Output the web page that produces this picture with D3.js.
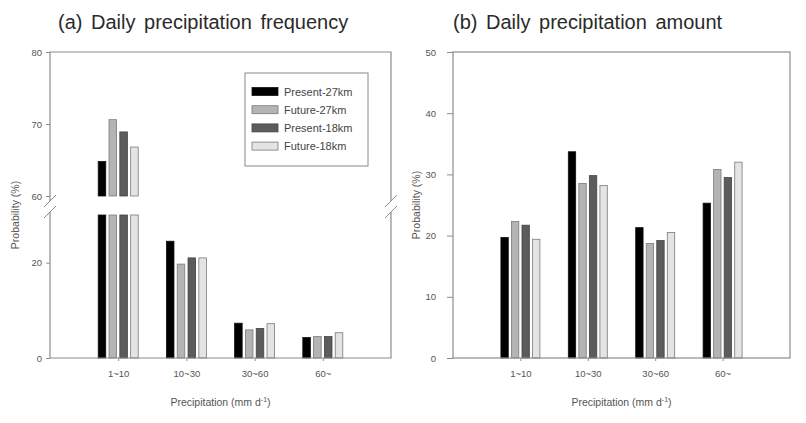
<!DOCTYPE html>
<html>
<head>
<meta charset="utf-8">
<script src="https://cdn.jsdelivr.net/npm/d3@7"></script>
<style>
  html, body { margin: 0; padding: 0; background: #fff; }
  svg { display: block; }
  .title { font-family: "Liberation Sans", Arial, sans-serif; font-size: 20px; fill: #2a2a2a; word-spacing: 3px; }
  .tick text, .lab { font-family: "Liberation Sans Narrow", "Liberation Sans", Arial, sans-serif; fill: #555; }
  .tick text { font-size: 9.5px; }
  .lab { font-size: 10.5px; }
  .leg { font-family: "Liberation Sans Narrow", "Liberation Sans", Arial, sans-serif; font-size: 11px; fill: #444; }
</style>
</head>
<body>
<svg id="chart" width="806" height="423"></svg>
<script>
// Precipitation classes (mm per day)
const categories = ["1~10", "10~30", "30~60", "60~"];
const seriesNames = ["Present-27km", "Future-27km", "Present-18km", "Future-18km"];
const seriesFill = ["#000000", "#b4b4b4", "#5c5c5c", "#e4e4e4"];
const seriesStroke = ["#111111", "#7a7a7a", "#444444", "#7a7a7a"];

// (a) frequency of daily precipitation, % per class
const freqPresent27 = [64.8, 24.5, 7.3, 4.3];
const freqFuture27  = [70.6, 19.7, 5.9, 4.5];
const freqPresent18 = [68.9, 21.0, 6.2, 4.5];
const freqFuture18  = [66.8, 21.0, 7.2, 5.3];

// (b) share of daily precipitation amount, % per class
const amtPresent27 = [19.7, 33.7, 21.3, 25.3];
const amtFuture27  = [22.3, 28.5, 18.7, 30.8];
const amtPresent18 = [21.7, 29.8, 19.2, 29.5];
const amtFuture18  = [19.4, 28.2, 20.5, 32.0];

// axis ticks
const freqTicksLow = [0, 20];
const freqTicksHigh = [60, 70, 80];
const amtTicks = [0, 10, 20, 30, 40, 50];

const svg = d3.select("#chart");
const frameColor = "#8c8c8c";

function rows(arrs) {
  return categories.map((c, i) => ({ cat: c, i, vals: arrs.map(a => a[i]) }));
}

function xAxis(g, x, y0) {
  const ax = d3.axisBottom(x)
    .tickValues(categories.map((c, i) => i + 1))
    .tickFormat((d) => categories[d - 1])
    .tickSize(3).tickSizeOuter(0).tickPadding(9);
  g.attr("transform", `translate(0,${y0})`).call(ax);
  g.select(".domain").remove();
  g.selectAll(".tick line").attr("stroke", frameColor);
}

function yAxis(g, y, ticks, x0, size, pad) {
  const ax = d3.axisLeft(y).tickValues(ticks).tickSize(size).tickPadding(pad).tickSizeOuter(0);
  g.attr("transform", `translate(${x0},0)`).call(ax);
  g.select(".domain").remove();
  g.selectAll(".tick line").attr("stroke", frameColor);
}

function drawBars(g, data, x, off, yFn) {
  const grp = g.selectAll(null).data(data).enter().append("g");
  grp.selectAll("rect").data(d => d.vals.map((v, k) => ({ v, k, i: d.i })))
    .enter().append("rect")
    .attr("x", d => x(d.i + 1) + off(seriesNames[d.k]))
    .attr("width", off.bandwidth())
    .each(function (d) {
      const r = yFn(d.v);
      d3.select(this).attr("y", r[0]).attr("height", Math.max(0, r[1] - r[0]));
    })
    .attr("fill", d => seriesFill[d.k])
    .attr("stroke", d => seriesStroke[d.k])
    .attr("stroke-width", 0.8);
}

function breakMark(g, x, y) {
  g.append("line").attr("x1", x - 6).attr("y1", y + 6).attr("x2", x + 6).attr("y2", y - 6)
    .attr("stroke", frameColor).attr("stroke-width", 1);
}

// ---------- (a) frequency, broken y axis ----------
{
  const left = 50, right = 391, top = 52, bottom = 358;
  const x = d3.scaleLinear().domain([0, 5]).range([left, right]);
  const yLow = d3.scaleLinear().domain([0, 30]).range([bottom, 215]);
  const yHigh = d3.scaleLinear().domain([60, 80]).range([196, top]);
  const off = d3.scaleBand().domain(seriesNames).range([-20, 20]).paddingInner(0.3);
  const g = svg.append("g");

  const data = rows([freqPresent27, freqFuture27, freqPresent18, freqFuture18]);
  // lower part of each bar
  drawBars(g, data, x, off, v => [yLow(Math.min(v, 30)), yLow(0)]);
  // upper part where a value passes the break
  const tall = data.map(d => ({ cat: d.cat, i: d.i, vals: d.vals.map(v => v > 60 ? v : null) }));
  const gt = g.append("g");
  gt.selectAll(null).data(tall).enter().append("g")
    .selectAll("rect").data(d => d.vals.map((v, k) => ({ v, k, i: d.i })).filter(e => e.v !== null))
    .enter().append("rect")
    .attr("x", d => x(d.i + 1) + off(seriesNames[d.k]))
    .attr("width", off.bandwidth())
    .attr("y", d => yHigh(d.v))
    .attr("height", d => yHigh(60) - yHigh(d.v))
    .attr("fill", d => seriesFill[d.k])
    .attr("stroke", d => seriesStroke[d.k])
    .attr("stroke-width", 0.8);

  // frame with gap at the break
  const fr = g.append("g").attr("stroke", frameColor).attr("stroke-width", 1.2).attr("fill", "none");
  fr.append("path").attr("d", `M${left},${yHigh(60)+5}V${top}H${right}V${yHigh(60)+5}`);
  fr.append("path").attr("d", `M${left},${yLow(30)-3}V${bottom}H${right}V${yLow(30)-3}`);
  [left, right].forEach(xx => { breakMark(g, xx, yHigh(60) + 5); breakMark(g, xx, yLow(30) - 3); });

  yAxis(g.append("g"), yLow, freqTicksLow, left, 4, 4);
  yAxis(g.append("g"), yHigh, freqTicksHigh, left, 4, 4);
  xAxis(g.append("g"), x, bottom);

  g.append("text").attr("class", "title").attr("x", 58).attr("y", 29).text("(a) Daily precipitation frequency");
  g.append("text").attr("class", "lab").attr("transform", `translate(19,215) rotate(-90)`)
    .attr("text-anchor", "middle").text("Probability (%)");
  const xl = g.append("text").attr("class", "lab").attr("x", x(2.5)).attr("y", 406).attr("text-anchor", "middle");
  xl.append("tspan").text("Precipitation (mm d");
  xl.append("tspan").attr("dy", -4).attr("font-size", "7px").text("-1");
  xl.append("tspan").attr("dy", 4).text(")");

  // legend
  const lg = g.append("g");
  lg.append("rect").attr("x", 245).attr("y", 73).attr("width", 123).attr("height", 93)
    .attr("fill", "#fff").attr("stroke", "#888").attr("stroke-width", 1);
  seriesNames.forEach((s, k) => {
    const cy = 91.5 + k * 18.2;
    lg.append("rect").attr("x", 252).attr("y", cy - 4).attr("width", 26).attr("height", 8)
      .attr("fill", seriesFill[k]).attr("stroke", seriesStroke[k]).attr("stroke-width", 0.8);
    lg.append("text").attr("class", "leg").attr("x", 284).attr("y", cy + 4).text(s);
  });
}

// ---------- (b) amount ----------
{
  const left = 453, right = 790, top = 52, bottom = 358;
  const x = d3.scaleLinear().domain([0, 5]).range([left, right]);
  const y = d3.scaleLinear().domain([0, 50]).range([bottom, top]);
  const off = d3.scaleBand().domain(seriesNames).range([-19.5, 19.5]).paddingInner(0.3);
  const g = svg.append("g");

  const data = rows([amtPresent27, amtFuture27, amtPresent18, amtFuture18]);
  drawBars(g, data, x, off, v => [y(v), y(0)]);

  g.append("rect").attr("x", left).attr("y", top).attr("width", right - left).attr("height", bottom - top)
    .attr("fill", "none").attr("stroke", frameColor).attr("stroke-width", 1.2);

  yAxis(g.append("g"), y, amtTicks, left, 6, 11);
  xAxis(g.append("g"), x, bottom);

  g.append("text").attr("class", "title").attr("x", 453).attr("y", 29).text("(b) Daily precipitation amount");
  g.append("text").attr("class", "lab").attr("transform", `translate(420,205) rotate(-90)`)
    .attr("text-anchor", "middle").text("Probability (%)");
  const xl = g.append("text").attr("class", "lab").attr("x", x(2.5)).attr("y", 406).attr("text-anchor", "middle");
  xl.append("tspan").text("Precipitation (mm d");
  xl.append("tspan").attr("dy", -4).attr("font-size", "7px").text("-1");
  xl.append("tspan").attr("dy", 4).text(")");
}
</script>
</body>
</html>
